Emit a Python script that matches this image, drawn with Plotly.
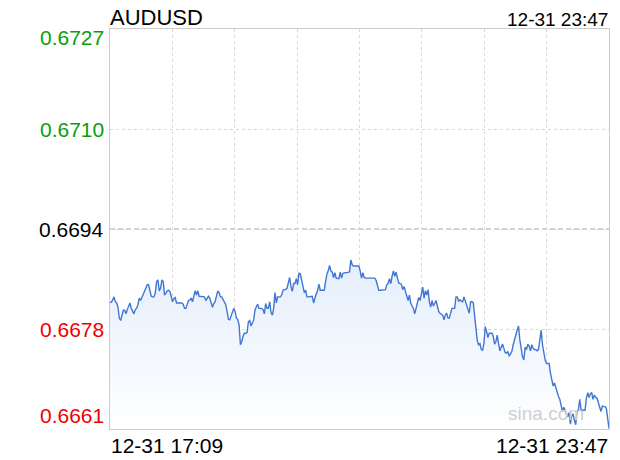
import plotly.graph_objects as go
import pandas as pd

symbol = "AUDUSD"
start_time = "2023-12-31 17:09"
end_time = "2023-12-31 23:47"
start_label = "12-31 17:09"
end_label = "12-31 23:47"
watermark = "sina.com"

prev_close = 0.6694
y_min, y_max = 0.6661, 0.6727
y_ticks = [0.6727, 0.67105, 0.6694, 0.66775, 0.6661]
y_labels = ["0.6727", "0.6710", "0.6694", "0.6678", "0.6661"]
y_colors = ["#0a9e0a", "#0a9e0a", "#000000", "#f00000", "#f00000"]

prices_a = [
    0.66819, 0.66819, 0.66823, 0.66828, 0.66820, 0.66818, 0.66811, 0.66793, 0.66789, 0.66796,
    0.66806, 0.66806, 0.66800, 0.66807, 0.66812, 0.66818, 0.66809, 0.66805, 0.66800, 0.66807,
    0.66809, 0.66815, 0.66826, 0.66822, 0.66827, 0.66833, 0.66837, 0.66842, 0.66848, 0.66848,
    0.66838, 0.66829, 0.66828, 0.66828, 0.66834, 0.66853, 0.66856, 0.66838, 0.66842, 0.66856,
    0.66853, 0.66831, 0.66834, 0.66838, 0.66839, 0.66837, 0.66829, 0.66820, 0.66825, 0.66827,
    0.66818, 0.66818, 0.66818, 0.66818, 0.66818, 0.66816, 0.66809, 0.66809, 0.66816, 0.66822,
    0.66823, 0.66826, 0.66820, 0.66831, 0.66838, 0.66831, 0.66838, 0.66829, 0.66829, 0.66829,
    0.66829, 0.66828, 0.66822, 0.66827, 0.66829, 0.66826, 0.66817, 0.66811, 0.66817, 0.66820,
    0.66829, 0.66838, 0.66835, 0.66828, 0.66828, 0.66823, 0.66818, 0.66815, 0.66804, 0.66791,
]
prices_b = [
    0.66790, 0.66796, 0.66804, 0.66809, 0.66804, 0.66793, 0.66791, 0.66782, 0.66749, 0.66754,
    0.66763, 0.66768, 0.66768, 0.66769, 0.66787, 0.66789, 0.66780, 0.66787, 0.66790, 0.66807,
    0.66812, 0.66816, 0.66809, 0.66809, 0.66809, 0.66807, 0.66800, 0.66817, 0.66809, 0.66809,
    0.66820, 0.66802, 0.66798, 0.66809, 0.66835, 0.66818, 0.66828, 0.66828, 0.66828, 0.66831,
    0.66839, 0.66840, 0.66840, 0.66842, 0.66850, 0.66860, 0.66845, 0.66837, 0.66850, 0.66850,
    0.66858, 0.66848, 0.66867, 0.66866, 0.66856, 0.66846, 0.66835, 0.66839, 0.66828, 0.66828,
    0.66828, 0.66828, 0.66829, 0.66818, 0.66827, 0.66833, 0.66838, 0.66849, 0.66839, 0.66839,
    0.66839, 0.66839, 0.66853, 0.66866, 0.66871, 0.66880, 0.66871, 0.66869, 0.66860, 0.66868,
    0.66859, 0.66858, 0.66858, 0.66869, 0.66859, 0.66867, 0.66868, 0.66868, 0.66868, 0.66868,
    0.66869, 0.66889, 0.66881, 0.66879,
]
prices_c = [
    0.66879, 0.66879, 0.66879, 0.66879, 0.66871, 0.66859, 0.66868, 0.66860, 0.66859, 0.66859,
    0.66859, 0.66859, 0.66859, 0.66859, 0.66859, 0.66859, 0.66855, 0.66846, 0.66839, 0.66839,
    0.66839, 0.66839, 0.66839, 0.66840, 0.66848, 0.66850, 0.66858, 0.66850, 0.66862, 0.66871,
    0.66862, 0.66869, 0.66859, 0.66851, 0.66850, 0.66849, 0.66840, 0.66845, 0.66837, 0.66827,
    0.66822, 0.66831, 0.66818, 0.66813, 0.66809, 0.66800, 0.66811, 0.66822, 0.66827, 0.66822,
    0.66831, 0.66844, 0.66826, 0.66838, 0.66831, 0.66840, 0.66820, 0.66811, 0.66822, 0.66813,
    0.66817, 0.66822, 0.66813, 0.66804, 0.66801, 0.66800, 0.66798, 0.66790, 0.66798, 0.66801,
    0.66793, 0.66793, 0.66804, 0.66809, 0.66809, 0.66809, 0.66828, 0.66828, 0.66821, 0.66823,
    0.66821, 0.66820, 0.66828, 0.66822, 0.66816, 0.66809, 0.66801, 0.66820, 0.66820, 0.66818,
    0.66798, 0.66773, 0.66756, 0.66749,
]
prices_d = [
    0.66751, 0.66741, 0.66740, 0.66751, 0.66779, 0.66771, 0.66761, 0.66768, 0.66768, 0.66768,
    0.66763, 0.66750, 0.66754, 0.66765, 0.66751, 0.66739, 0.66745, 0.66750, 0.66743, 0.66736,
    0.66735, 0.66738, 0.66730, 0.66735, 0.66738, 0.66749, 0.66760, 0.66765, 0.66773, 0.66780,
    0.66757, 0.66743, 0.66729, 0.66724, 0.66745, 0.66741, 0.66750, 0.66747, 0.66739, 0.66749,
    0.66743, 0.66741, 0.66741, 0.66739, 0.66741, 0.66757, 0.66773, 0.66749, 0.66736, 0.66724,
    0.66718, 0.66718, 0.66718, 0.66702, 0.66688, 0.66681, 0.66686, 0.66677, 0.66672, 0.66664,
    0.66659, 0.66646, 0.66639, 0.66646, 0.66641, 0.66637, 0.66630, 0.66637, 0.66618, 0.66631,
    0.66635, 0.66624, 0.66617, 0.66639, 0.66641, 0.66659, 0.66642, 0.66641, 0.66641, 0.66641,
    0.66661, 0.66670, 0.66662, 0.66668, 0.66670, 0.66659, 0.66666, 0.66662, 0.66661, 0.66655,
    0.66646, 0.66639, 0.66648, 0.66647, 0.66647, 0.66644, 0.66628, 0.66611,
]
prices = prices_a + prices_b + prices_c + prices_d
times = pd.date_range(start_time, end_time, periods=len(prices))

FONT = "Liberation Sans, Arial, Helvetica, sans-serif"

fig = go.Figure()
fig.add_trace(go.Scatter(
    x=times, y=prices, mode="lines",
    line=dict(color="#4077d2", width=1.4),
    fill="tozeroy",
    fillgradient=dict(type="vertical",
                      colorscale=[[0, "rgba(255,255,255,1)"], [1, "rgba(228,238,252,1)"]],
                      start=y_min, stop=max(prices)),
    hoverinfo="skip",
))

span_ms = (times[-1] - times[0]).total_seconds() * 1000
# The page body has an 8px default margin, so the figure is 8px smaller
# on each side to fill the 620x460 window exactly.
fig.update_layout(
    width=612, height=452,
    margin=dict(l=102, r=11, t=21, b=31),
    paper_bgcolor="white", plot_bgcolor="white",
    showlegend=False,
    font=dict(family=FONT, color="black"),
)
fig.update_xaxes(
    range=[times[0], times[-1]], tick0=times[0], dtick=span_ms / 8,
    showgrid=True, gridcolor="#d8d8d8", griddash="dot", gridwidth=1,
    showticklabels=False, ticks="", zeroline=False,
    showline=True, linecolor="#cccccc", linewidth=1, mirror=True,
)
fig.update_yaxes(
    range=[y_min, y_max], tickmode="array", tickvals=y_ticks,
    showgrid=True, gridcolor="#d8d8d8", griddash="dot", gridwidth=1,
    showticklabels=False, ticks="", zeroline=False,
    showline=True, linecolor="#cccccc", linewidth=1, mirror=True,
)
fig.add_shape(type="line", xref="paper", x0=0, x1=1, yref="y",
              y0=prev_close, y1=prev_close, layer="below",
              line=dict(color="#a0a0a0", width=1, dash="5px,3px"))

anchors = ["top", "middle", "middle", "middle", "bottom"]
shifts = [5, 0, 0, 0, 0]
for v, lab, col, anc, sh in zip(y_ticks, y_labels, y_colors, anchors, shifts):
    fig.add_annotation(x=0, xref="paper", y=v, yref="y", text=lab,
                       showarrow=False, xanchor="right", yanchor=anc,
                       xshift=-4, yshift=sh, font=dict(size=21, color=col, family=FONT))

fig.add_annotation(x=0, xref="paper", y=1, yref="paper", text=symbol,
                   showarrow=False, xanchor="left", yanchor="bottom",
                   xshift=-2, yshift=-3, font=dict(size=22, color="black", family=FONT))
fig.add_annotation(x=1, xref="paper", y=1, yref="paper", text=end_label,
                   showarrow=False, xanchor="right", yanchor="bottom",
                   xshift=1, yshift=-3, font=dict(size=19, color="black", family=FONT))
fig.add_annotation(x=0, xref="paper", y=0, yref="paper", text=start_label,
                   showarrow=False, xanchor="left", yanchor="top",
                   xshift=-1, yshift=-3, font=dict(size=21, color="black", family=FONT))
fig.add_annotation(x=1, xref="paper", y=0, yref="paper", text=end_label,
                   showarrow=False, xanchor="right", yanchor="top",
                   xshift=1, yshift=-3, font=dict(size=21, color="black", family=FONT))
fig.add_annotation(x=0.874, xref="paper", y=0.04, yref="paper", text=watermark,
                   showarrow=False, xanchor="center", yanchor="middle",
                   font=dict(size=19, color="#cfcfcf", family=FONT))

fig.write_html("out.html")
